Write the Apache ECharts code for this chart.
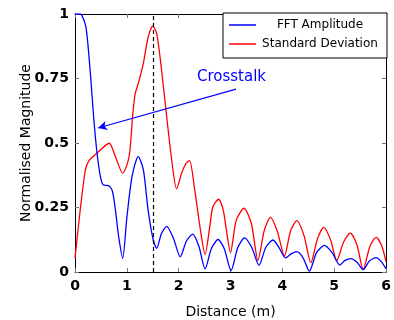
<!DOCTYPE html>
<html>
<head>
<meta charset="utf-8">
<script src="https://cdn.jsdelivr.net/npm/echarts@6/dist/echarts.min.js"></script>
<style>
  html, body { margin: 0; padding: 0; background: #fff; }
  #chart { width: 394px; height: 320px; }
</style>
</head>
<body>
<div id="chart"></div>
<script>
// FFT amplitude
const fftX = [0, 0.1, 0.21, 0.30, 0.36, 0.42, 0.49, 0.55, 0.65, 0.72, 0.78, 0.84, 0.92, 1.0, 1.1, 1.22, 1.32, 1.41, 1.51, 1.575, 1.67, 1.77, 1.9, 2.03, 2.15, 2.27, 2.39, 2.51, 2.63, 2.76, 2.88, 3.01, 3.14, 3.27, 3.41, 3.55, 3.68, 3.82, 3.95, 4.06, 4.17, 4.28, 4.40, 4.52, 4.66, 4.81, 4.96, 5.11, 5.21, 5.32, 5.44, 5.56, 5.68, 5.81, 5.91, 6.0];
const fftY = [1.0, 1.0, 0.95, 0.76, 0.60, 0.47, 0.37, 0.337, 0.335, 0.315, 0.24, 0.14, 0.053, 0.21, 0.37, 0.447, 0.395, 0.24, 0.124, 0.092, 0.15, 0.177, 0.13, 0.059, 0.12, 0.147, 0.10, 0.012, 0.09, 0.126, 0.09, 0.005, 0.094, 0.132, 0.095, 0.026, 0.095, 0.124, 0.09, 0.055, 0.07, 0.079, 0.055, 0.003, 0.075, 0.103, 0.075, 0.027, 0.045, 0.052, 0.038, 0.009, 0.043, 0.056, 0.04, 0.012];

// standard deviation
const stdX = [0, 0.1, 0.2, 0.27, 0.42, 0.66, 0.78, 0.92, 1.01, 1.06, 1.11, 1.16, 1.22, 1.32, 1.41, 1.5, 1.576, 1.67, 1.77, 1.866, 1.96, 2.06, 2.14, 2.21, 2.31, 2.41, 2.51, 2.6, 2.66, 2.77, 2.86, 2.92, 3.0, 3.11, 3.26, 3.40, 3.53, 3.65, 3.77, 3.90, 4.04, 4.16, 4.28, 4.42, 4.55, 4.68, 4.80, 4.93, 5.05, 5.18, 5.31, 5.44, 5.56, 5.69, 5.81, 5.92, 6.0];
const stdY = [0.053, 0.24, 0.395, 0.432, 0.46, 0.499, 0.447, 0.383, 0.42, 0.47, 0.6, 0.69, 0.73, 0.81, 0.91, 0.953, 0.925, 0.783, 0.60, 0.434, 0.322, 0.385, 0.42, 0.432, 0.318, 0.176, 0.068, 0.176, 0.253, 0.282, 0.24, 0.163, 0.075, 0.2, 0.247, 0.19, 0.045, 0.16, 0.212, 0.16, 0.062, 0.16, 0.199, 0.14, 0.036, 0.13, 0.173, 0.125, 0.044, 0.115, 0.151, 0.105, 0.01, 0.1, 0.134, 0.1, 0.04];

const seriesNames = ['FFT Amplitude', 'Standard Deviation'];
const markX = 1.5;
const arrowFrom = [3.106, 0.709];
const arrowTo = [0.444, 0.558];

const zip = (xs, ys) => xs.map((x, i) => [x, ys[i]]);
const font = 'DejaVu Sans';

const chart = echarts.init(document.getElementById('chart'));

const tickStyle = { show: true, inside: true, length: 4, lineStyle: { color: '#777' } };
const frameLine = { show: true, onZero: false, lineStyle: { color: '#000', width: 1 } };

chart.setOption({
  animation: false,
  grid: { left: 75, right: 8, top: 14, bottom: 48, outerBoundsMode: 'none' },
  legend: {
    orient: 'vertical',
    left: 223,
    top: 13,
    padding: [5, 8, 7, 6],
    itemWidth: 27,
    itemHeight: 1.5,
    itemGap: 5,
    borderColor: '#000',
    borderWidth: 1,
    borderRadius: 0,
    backgroundColor: '#fff',
    icon: 'rect',
    data: seriesNames,
    formatter: (name) => '{c|' + name + '}',
    textStyle: {
      fontFamily: font, fontSize: 12, color: '#000', lineHeight: 14,
      rich: { c: { width: 118, align: 'center', fontFamily: font, fontSize: 12, color: '#000', lineHeight: 14 } }
    }
  },
  xAxis: [{
    type: 'value', min: 0, max: 6, interval: 1,
    name: 'Distance (m)', nameLocation: 'middle', nameGap: 33, nameMoveOverlap: false,
    nameTextStyle: { fontFamily: font, fontSize: 14, color: '#000' },
    axisLine: frameLine,
    axisTick: tickStyle,
    splitLine: { show: false },
    axisLabel: { fontFamily: font, fontSize: 14, fontWeight: 'bold', color: '#000', margin: 7 }
  }, {
    type: 'value', min: 0, max: 6, interval: 1, position: 'top',
    axisLine: frameLine, axisTick: tickStyle,
    splitLine: { show: false }, axisLabel: { show: false }
  }],
  yAxis: [{
    type: 'value', min: 0, max: 1, interval: 0.25,
    name: 'Normalised Magnitude', nameLocation: 'middle', nameGap: 42, nameMoveOverlap: false,
    nameTextStyle: { fontFamily: font, fontSize: 14, color: '#000' },
    axisLine: frameLine,
    axisTick: tickStyle,
    splitLine: { show: false },
    axisLabel: { fontFamily: font, fontSize: 14, fontWeight: 'bold', color: '#000', margin: 6 }
  }, {
    type: 'value', min: 0, max: 1, interval: 0.25, position: 'right',
    axisLine: frameLine, axisTick: tickStyle,
    splitLine: { show: false }, axisLabel: { show: false }
  }],
  series: [{
    name: seriesNames[0],
    type: 'line',
    data: zip(fftX, fftY),
    showSymbol: false,
    smooth: 0.25,
    color: '#0000ff',
    lineStyle: { color: '#0000ff', width: 1.3 },
    z: 3,
    markLine: {
      silent: true,
      symbol: ['none', 'arrow'],
      symbolSize: [7, 9],
      label: { show: false },
      lineStyle: { color: '#0000ff', type: 'solid', width: 1.2 },
      data: [[{ coord: arrowFrom }, { coord: arrowTo }]]
    }
  }, {
    name: seriesNames[1],
    type: 'line',
    data: zip(stdX, stdY),
    showSymbol: false,
    smooth: 0.25,
    color: '#ff0000',
    lineStyle: { color: '#ff0000', width: 1.3 },
    z: 2,
    markLine: {
      silent: true,
      symbol: 'none',
      label: { show: false },
      lineStyle: { color: '#000', type: [4, 3], width: 1.2 },
      data: [{ xAxis: markX }]
    }
  }],
  graphic: [{
    type: 'text',
    left: 197,
    top: 70,
    style: { text: 'Crosstalk', fill: '#0000ff', font: '15px "DejaVu Sans"' }
  }]
});
</script>
</body>
</html>
